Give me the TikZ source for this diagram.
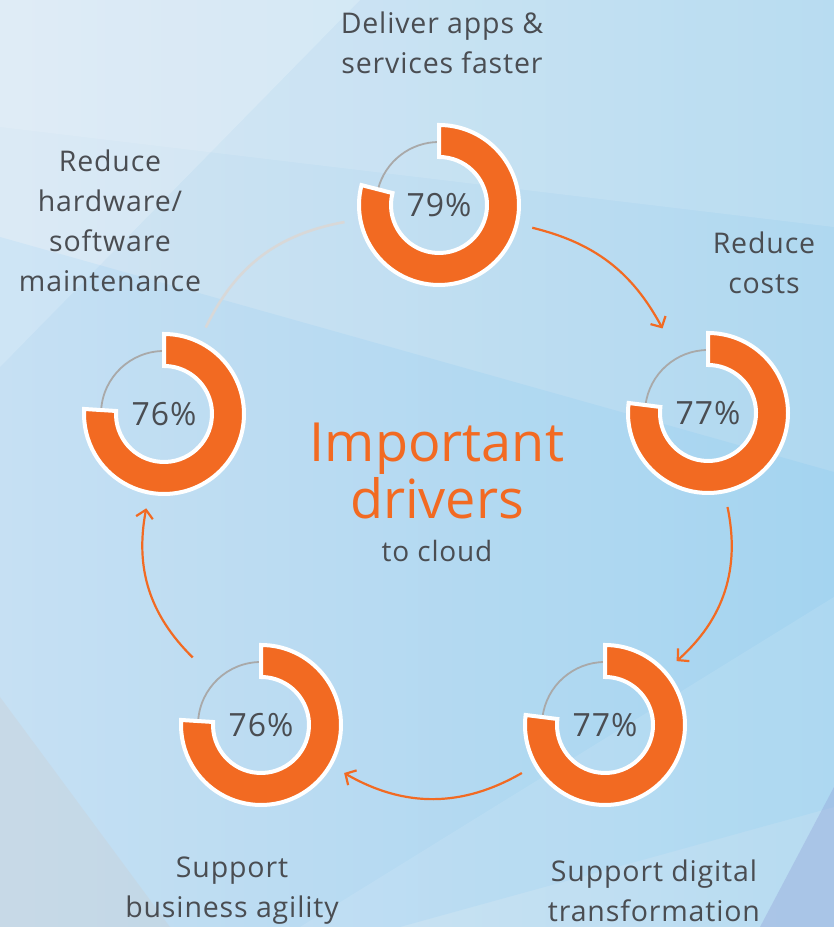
\documentclass[tikz,border=0pt]{standalone}
\usepackage{fontspec}
\setmainfont{Open Sans}
\newfontfamily\lblfont{Open Sans}[LetterSpace=3]
\usetikzlibrary{arrows.meta,positioning,calc}
\definecolor{drvorange}{HTML}{F26A22}
\definecolor{drvtext}{HTML}{4A4D52}
\definecolor{ringgray}{HTML}{A9A9A9}
\definecolor{linkgray}{HTML}{D8D8D8}
\definecolor{bgleft}{HTML}{D3E5F3}
\definecolor{bgright}{HTML}{AFD8F0}
\tikzset{
    donut/.style={circle, inner sep=0pt, minimum size=164pt, outer sep=14pt, font=\lblfont\fontsize{32}{32}\selectfont, text=drvtext},
    lbl/.style={align=center, font=\lblfont\fontsize{28.5}{40}\selectfont, text=drvtext},
    drv/.style={draw=drvorange, line width=2.2pt, -{Straight Barb[length=8pt,width=17pt]}},
    link/.style={draw=linkgray, line width=2.6pt}}

\begin{document}
\begin{tikzpicture}[x=1pt,y=1pt]
%background
\fill[left color=bgleft, right color=bgright] (0,0) rectangle (834,927);
\fill[white, opacity=.2] (0,927) -- (360,927) -- (0,560) -- cycle;
\fill[white, opacity=.12] (0,927) -- (834,927) -- (834,700) -- (0,800) -- cycle;
\fill[blue!40!cyan, opacity=.06] (0,690) -- (834,455) -- (834,120) -- (400,0) -- (0,0) -- cycle;
\fill[gray!40, opacity=.3] (0,0) -- (170,0) -- (0,230) -- cycle;
\fill[white, opacity=.10] (300,0) -- (834,0) -- (834,330) -- cycle;
\fill[cyan!30!blue!45, opacity=.35] (760,0) -- (834,0) -- (834,140) -- cycle;
\useasboundingbox (0,0) rectangle (834,927);

%donuts
\node[donut] (d1) at (439,722) {79\%};
\node[donut] (d2) at (708,514) {77\%};
\node[donut] (d3) at (605,202) {77\%};
\node[donut] (d4) at (261,202) {76\%};
\node[donut] (d5) at (164,513) {76\%};
\foreach \n/\p in {d1/79,d2/77,d3/77,d4/76,d5/76}{
  \draw[ringgray, line width=1.8pt] ($(\n.center)+(90:63)$) arc[start angle=90, end angle={450-3.6*\p}, radius=63];
  \filldraw[fill=drvorange, draw=white, line width=4pt]
    ($(\n.center)+(90:80)$) arc[start angle=90, end angle={90-3.6*\p}, radius=80]
    -- ($(\n.center)+({90-3.6*\p}:48)$) arc[start angle={90-3.6*\p}, end angle=90, radius=48] -- cycle;
}

%connectors
\draw[drv] (d1) to[bend left=24] (d2);
\draw[drv] (d2) to[bend left=30] (d3);
\draw[drv] (d3) to[bend left=30] (d4);
\draw[drv] (d4) to[bend left=28] (d5);
\draw[link] (d5) to[bend left=27] (d1);

%labels
\node[lbl] (l1) at (442,884) {Deliver apps \&\\services faster};
\node[lbl] (l2) at (764,664) {Reduce\\costs};
\node[lbl] (l3) at (654,36) {Support digital\\transformation};
\node[lbl] (l4) at (232,36) {Support\\business agility};
\node[lbl] (l5) at (110,706) {Reduce\\hardware/\\software\\maintenance};

%title
\node[align=center, text=drvorange, font=\fontsize{54}{57}\selectfont] (title) at (437,456) {Important\\drivers};
\node[text=drvtext, font=\lblfont\fontsize{28}{28}\selectfont] (sub) at (437,376) {to cloud};
\end{tikzpicture}
\end{document}
